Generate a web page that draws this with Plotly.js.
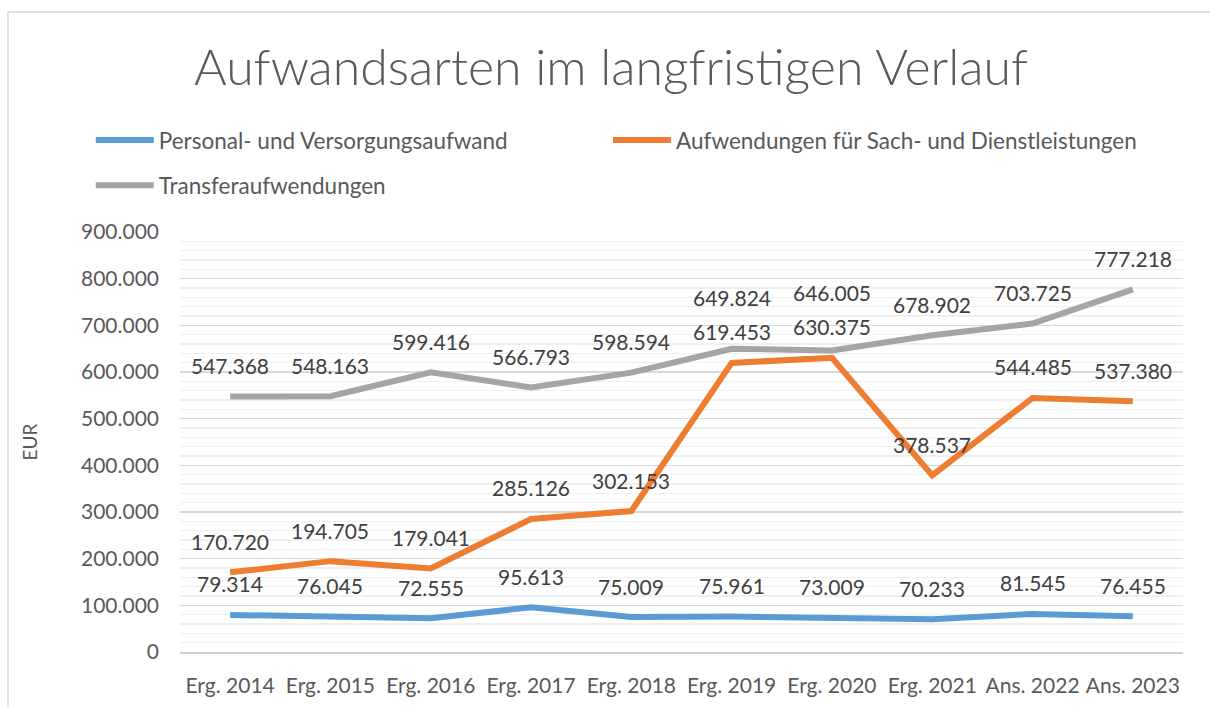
<!DOCTYPE html>
<html>
<head>
<meta charset="utf-8">
<script src="https://cdn.plot.ly/plotly-3.0.1.min.js"></script>
<style>html,body{margin:0;padding:0;background:#fff;}#chart{width:1210px;height:707px;}</style>
</head>
<body>
<div id="chart"></div>
<script>
const categories = ["Erg. 2014","Erg. 2015","Erg. 2016","Erg. 2017","Erg. 2018","Erg. 2019","Erg. 2020","Erg. 2021","Ans. 2022","Ans. 2023"];
const seriesNames = ["Personal- und Versorgungsaufwand","Aufwendungen für Sach- und Dienstleistungen","Transferaufwendungen"];
const personal = [79314,76045,72555,95613,75009,75961,73009,70233,81545,76455];
const sach = [170720,194705,179041,285126,302153,619453,630375,378537,544485,537380];
const transfer = [547368,548163,599416,566793,598594,649824,646005,678902,703725,777218];
const colors = ["#5B9BD5","#ED7D31","#A5A5A5"];
const allSeries = [personal, sach, transfer];

const fmt = v => v.toLocaleString('de-DE');

const M = {l: 180, r: 27, t: 232, b: 55};
const H = 707, W = 1210;
const yMax = 900000;
const plotH = H - M.t - M.b;
const pxPerUnit = plotH / yMax;

const legendNames = ['legend', 'legend2', 'legend3'];
const traces = allSeries.map((vals, i) => ({
  type: 'scatter', mode: 'lines', name: seriesNames[i],
  x: categories, y: vals, legend: legendNames[i],
  line: {color: colors[i], width: 6},
  hoverinfo: 'skip'
}));

// data labels above points, pushed up when they would collide
const baseShift = 31, minGap = 30, pushGap = 34;
const annotations = [];
categories.forEach((c, j) => {
  const items = allSeries.map(vals => vals[j]).sort((a, b) => a - b);
  let prevCenter = null;
  items.forEach(v => {
    const py = (yMax - v) * pxPerUnit;
    let center = py - baseShift;
    if (prevCenter !== null && prevCenter - center < minGap) center = prevCenter - pushGap;
    prevCenter = center;
    annotations.push({
      x: c, y: v, xref: 'x', yref: 'y',
      text: fmt(v), showarrow: false, yshift: py - center, yanchor: 'middle',
      font: {family: 'Lato, sans-serif', size: 21, color: '#404040'}
    });
  });
});

const legendFont = {family: 'Lato, sans-serif', size: 22.5, color: '#595959'};
const legendBase = {orientation: 'h', xref: 'container', yref: 'container', xanchor: 'left', yanchor: 'top',
                    font: legendFont, itemwidth: 58, bgcolor: 'rgba(0,0,0,0)'};

const layout = {
  width: W, height: H,
  margin: M,
  paper_bgcolor: '#fff', plot_bgcolor: '#fff',
  separators: ',.',
  title: {text: 'Aufwandsarten im langfristigen Verlauf', x: 0.505, xanchor: 'center', y: 0.905, yanchor: 'middle',
          font: {family: 'Lato, sans-serif', size: 50, color: '#595959', weight: 300}},
  showlegend: true,
  legend: Object.assign({}, legendBase, {x: 0.075, y: 0.832}),
  legend2: Object.assign({}, legendBase, {x: 0.5025, y: 0.832}),
  legend3: Object.assign({}, legendBase, {x: 0.075, y: 0.768}),
  xaxis: {type: 'category', range: [-0.5, 9.5], showgrid: false, zeroline: false,
          showline: true, linecolor: '#d0d0d0', linewidth: 1.5, ticks: '',
          ticklabelstandoff: 14,
          tickfont: {family: 'Lato, sans-serif', size: 21, color: '#595959'}},
  yaxis: {range: [0, yMax], dtick: 100000, tickformat: ',d', showgrid: true, gridcolor: '#d9d9d9', gridwidth: 1.3,
          zeroline: false, showline: false, ticks: '', ticklabelstandoff: 20,
          minor: {dtick: 20000, showgrid: true, gridcolor: '#efefef', gridwidth: 1.3},
          tickfont: {family: 'Lato, sans-serif', size: 21, color: '#595959'},
          title: {text: 'EUR', standoff: 38, font: {family: 'Lato, sans-serif', size: 19, color: '#595959'}}},
  annotations: annotations,
  shapes: [{type: 'rect', xref: 'paper', yref: 'paper',
            x0: (8-180)/1003, x1: (1230-180)/1003, y0: (652-730)/420, y1: (652-12)/420,
            line: {color: '#d9d9d9', width: 1.5}, fillcolor: 'rgba(0,0,0,0)', layer: 'below'}]
};

Plotly.newPlot('chart', traces, layout, {displayModeBar: false, staticPlot: true});
</script>
</body>
</html>
